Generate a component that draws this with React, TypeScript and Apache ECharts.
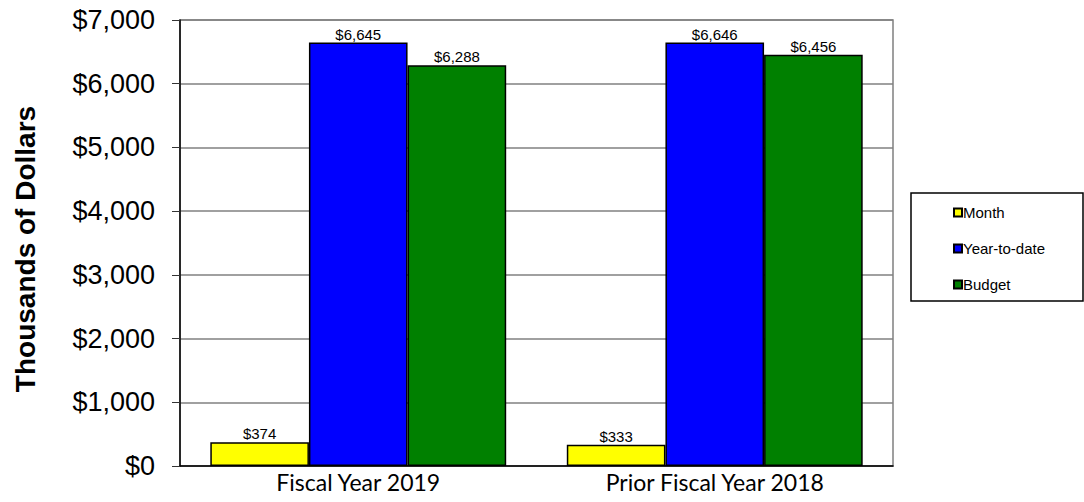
import React, { useEffect, useRef } from "react";
import * as echarts from "echarts";

const categories = ["Fiscal Year 2019", "Prior Fiscal Year 2018"];
const monthValues = [374, 333];
const ytdValues = [6645, 6646];
const budgetValues = [6288, 6456];
const seriesNames = ["Month", "Year-to-date", "Budget"];
const seriesColors = ["#FFFF00", "#0000FF", "#008000"];
const yTitle = "Thousands of Dollars";

const fmt = (v: number) => "$" + v.toLocaleString("en-US");

export default function App() {
  const ref = useRef<HTMLDivElement>(null);
  useEffect(() => {
    if (!ref.current) return;
    const chart = echarts.init(ref.current, null, { renderer: "svg" });
    const data = [monthValues, ytdValues, budgetValues];
    chart.setOption({
      animation: false,
      backgroundColor: "#fff",
      grid: {
        left: 180,
        right: 191,
        top: 20,
        bottom: 36,
        show: true,
        borderColor: "#808080",
        borderWidth: 1.5,
      },
      legend: {
        orient: "vertical",
        left: 948,
        top: 200,
        itemWidth: 8,
        itemHeight: 8,
        itemGap: 21,
        icon: "rect",
        textStyle: { fontFamily: "Arial, Liberation Sans", fontSize: 15, color: "#000", padding: [0, 0, 0, -4] },
        data: seriesNames,
      },
      graphic: [
        {
          type: "rect",
          shape: { x: 911, y: 193, width: 172, height: 108 },
          style: { fill: "none", stroke: "#000", lineWidth: 1.5 },
          z: 0,
        },
        {
          type: "text",
          x: 25,
          y: 249,
          rotation: Math.PI / 2,
          style: {
            text: yTitle,
            font: "bold 28px Arial, 'Liberation Sans'",
            fill: "#000",
            align: "center",
            verticalAlign: "middle",
          },
        },
      ],
      xAxis: {
        type: "category",
        data: categories,
        axisLine: { lineStyle: { color: "#000", width: 1.5 } },
        axisTick: { show: false },
        axisLabel: {
          fontFamily: "Lato, 'Open Sans'",
          fontSize: 23,
          color: "#000",
          margin: 4,
        },
      },
      yAxis: {
        type: "value",
        min: 0,
        max: 7000,
        interval: 1000,
        axisLine: { show: true, lineStyle: { color: "#000", width: 1.5 } },
        axisTick: { show: true, length: 8, lineStyle: { color: "#333" } },
        splitLine: { show: true, lineStyle: { color: "#808080", width: 1.5 } },
        axisLabel: {
          formatter: (v: number) => fmt(v),
          fontFamily: "Arial, 'Liberation Sans'",
          fontSize: 27,
          color: "#000",
          margin: 25,
        },
      },
      series: seriesNames.map((name, i) => ({
        name,
        type: "bar",
        data: data[i],
        barGap: "0%",
        barCategoryGap: "17%",
        itemStyle: { color: seriesColors[i], borderColor: "#000", borderWidth: 1.5 },
        label: {
          show: true,
          position: "top",
          distance: 1,
          formatter: (p: any) => fmt(p.value),
          fontFamily: "Arial, 'Liberation Sans'",
          fontSize: 15,
          color: "#000",
        },
      })),
    });
    return () => chart.dispose();
  }, []);
  return <div ref={ref} style={{ width: 1084, height: 502, position: "absolute", left: 0, top: 0 }} />;
}
